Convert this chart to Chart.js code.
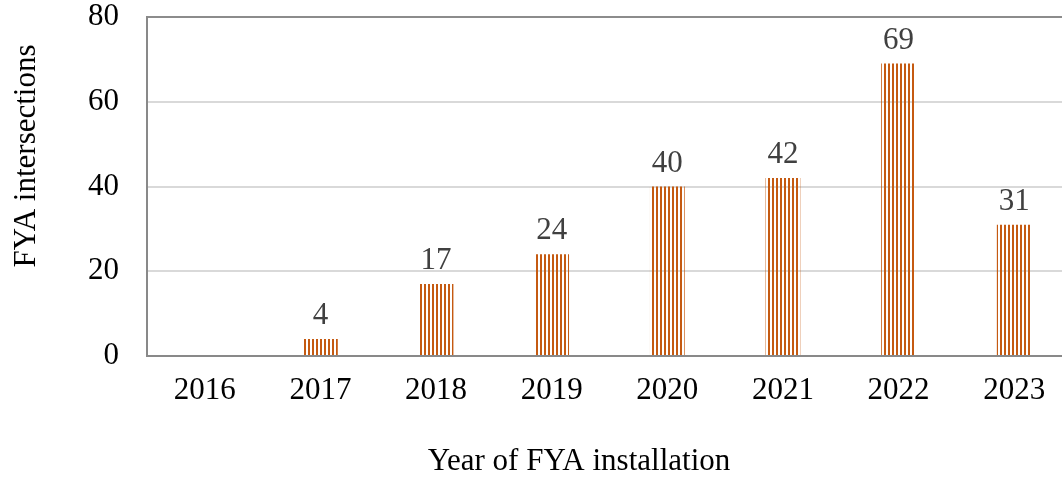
<!DOCTYPE html>
<html>
<head>
<meta charset="utf-8">
<script src="https://cdn.jsdelivr.net/npm/chart.js@4/dist/chart.umd.min.js"></script>
<style>
  html, body { margin: 0; padding: 0; background: #fff; overflow: hidden; }
  #wrap { width: 1080px; height: 477px; position: relative; }
</style>
</head>
<body>
<div id="wrap"><canvas id="fyaChart"></canvas></div>
<script>
/* ═══ FYA installations by year ═══ */
var YEARS  = ['2016', '2017', '2018', '2019', '2020', '2021', '2022', '2023'];
var COUNTS = [0, 4, 17, 24, 40, 42, 69, 31];
var Y_TICKS = [0, 20, 40, 60, 80];
var X_TITLE = 'Year of FYA installation';
var Y_TITLE = 'FYA intersections';

var FONT = '"Liberation Serif", "Times New Roman", serif';
var BAR_ORANGE = '#C55A11';

/* ── vertical stripe fill ── */
function stripePattern() {
  var c = document.createElement('canvas');
  c.width = 4; c.height = 4;
  var g = c.getContext('2d');
  g.fillStyle = BAR_ORANGE;
  g.fillRect(0, 0, 2, 4);
  return g.createPattern(c, 'repeat');
}

/* ── value labels above bars (skip zeros) ── */
var valueLabels = {
  id: 'valueLabels',
  afterDatasetsDraw: function(chart) {
    var c = chart.ctx, meta = chart.getDatasetMeta(0);
    c.save();
    c.font = '31px ' + FONT;
    c.fillStyle = '#404040';
    c.textAlign = 'center';
    c.textBaseline = 'alphabetic';
    meta.data.forEach(function(bar, i) {
      if (!COUNTS[i]) return;
      c.fillText(String(COUNTS[i]), bar.x, bar.y - 15);
    });
    c.restore();
  }
};

/* ── axis titles (Excel puts them off-centre) ── */
var axisTitles = {
  id: 'axisTitles',
  afterDraw: function(chart) {
    var c = chart.ctx;
    c.save();
    c.font = '31px ' + FONT;
    c.fillStyle = '#000';
    c.textAlign = 'center';
    c.textBaseline = 'alphabetic';
    c.fillText(X_TITLE, 579, 470);
    c.translate(35, 156);
    c.rotate(-Math.PI / 2);
    c.fillText(Y_TITLE, 0, 0);
    c.restore();
  }
};

new Chart(document.getElementById('fyaChart'), {
  type: 'bar',
  data: {
    labels: YEARS,
    datasets: [{
      data: COUNTS,
      backgroundColor: stripePattern(),
      borderWidth: 0,
      barPercentage: 0.3,
      categoryPercentage: 1
    }]
  },
  plugins: [valueLabels, axisTitles],
  options: {
    responsive: true, maintainAspectRatio: false, animation: false,
    layout: { padding: { top: 17, right: 8, left: 0, bottom: 0 } },
    plugins: { legend: { display: false }, tooltip: { enabled: false } },
    scales: {
      x: {
        grid: { display: false, drawTicks: false },
        border: { display: true, color: '#898989', width: 2 },
        ticks: { color: '#000', font: { size: 31, family: FONT }, padding: 16, maxRotation: 0 },
        afterFit: function(s) { s.height = 477 - 356; s.paddingLeft = 0; s.paddingRight = 0; }
      },
      y: {
        min: 0, max: 80,
        afterBuildTicks: function(s) { s.ticks = Y_TICKS.map(function(v) { return { value: v }; }); },
        grid: {
          drawTicks: false, lineWidth: 2,
          color: function(ctx) { return ctx.tick && ctx.tick.value === 80 ? '#8c8c8c' : '#d9d9d9'; }
        },
        border: { display: true, color: '#898989', width: 2 },
        ticks: { color: '#000', font: { size: 31, family: FONT }, padding: 28 },
        afterFit: function(s) { s.width = 147; s.paddingTop = 0; s.paddingBottom = 0; }
      }
    }
  }
});
</script>
</body>
</html>
